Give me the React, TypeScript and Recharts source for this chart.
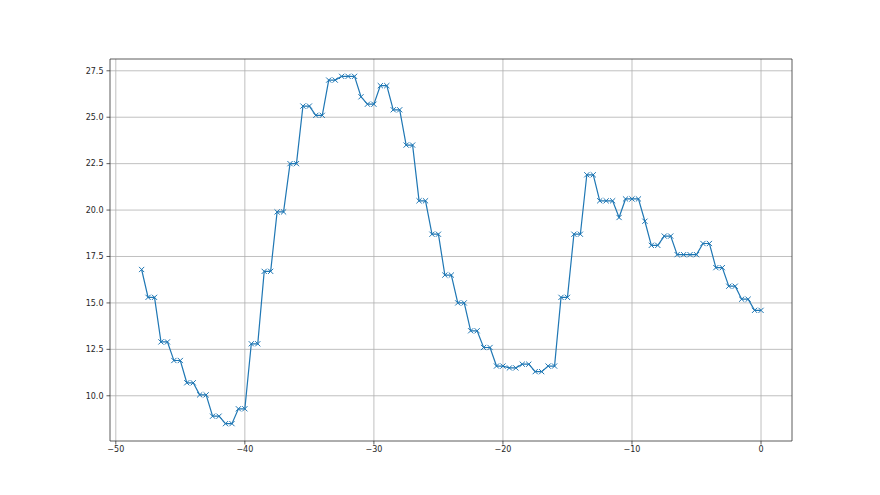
import React from 'react';
import {
  LineChart,
  Line,
  XAxis,
  YAxis,
  CartesianGrid,
  ReferenceLine
} from 'recharts';

const xValues = [
  -48, -47.5, -47, -46.5, -46, -45.5, -45, -44.5, -44, -43.5, -43, -42.5, -42,
  -41.5, -41, -40.5, -40, -39.5, -39, -38.5, -38, -37.5, -37, -36.5, -36, -35.5,
  -35, -34.5, -34, -33.5, -33, -32.5, -32, -31.5, -31, -30.5, -30, -29.5, -29,
  -28.5, -28, -27.5, -27, -26.5, -26, -25.5, -25, -24.5, -24, -23.5, -23, -22.5,
  -22, -21.5, -21, -20.5, -20, -19.5, -19, -18.5, -18, -17.5, -17, -16.5, -16,
  -15.5, -15, -14.5, -14, -13.5, -13, -12.5, -12, -11.5, -11, -10.5, -10, -9.5,
  -9, -8.5, -8, -7.5, -7, -6.5, -6, -5.5, -5, -4.5, -4, -3.5, -3, -2.5, -2, -1.5,
  -1, -0.5, 0
];

const yValues = [
  16.8, 15.3, 15.3, 12.9, 12.9, 11.9, 11.9, 10.7, 10.7, 10.05, 10.05, 8.9, 8.9,
  8.5, 8.5, 9.3, 9.3, 12.8, 12.8, 16.7, 16.7, 19.9, 19.9, 22.5, 22.5, 25.6,
  25.6, 25.1, 25.1, 27.0, 27.0, 27.2, 27.2, 27.2, 26.1, 25.7, 25.7, 26.7, 26.7,
  25.4, 25.4, 23.5, 23.5, 20.5, 20.5, 18.7, 18.7, 16.5, 16.5, 15.0, 15.0, 13.5,
  13.5, 12.6, 12.6, 11.6, 11.6, 11.5, 11.5, 11.7, 11.7, 11.3, 11.3, 11.6, 11.6,
  15.3, 15.3, 18.7, 18.7, 21.9, 21.9, 20.5, 20.5, 20.5, 19.6, 20.6, 20.6, 20.6,
  19.4, 18.1, 18.1, 18.6, 18.6, 17.6, 17.6, 17.6, 17.6, 18.2, 18.2, 16.9, 16.9,
  15.9, 15.9, 15.2, 15.2, 14.6, 14.6
];

const xTicks = [-50, -40, -30, -20, -10, 0];
const yTicks = [10, 12.5, 15, 17.5, 20, 22.5, 25, 27.5];

const data = xValues.map((x, i) => ({ x, y: yValues[i] }));

const xDomain = [-50.45, 2.4];
const yDomain = [7.565, 28.135];

const LINE_COLOR = '#1f77b4';
const tickStyle = { fontSize: 8, fill: '#262626', fontFamily: 'DejaVu Sans' };

// matplotlib 'x' marker
const XMarker = (props: any) => {
  const { cx, cy } = props;
  if (cx == null || cy == null) return null;
  const r = 2.6;
  return (
    <g>
      <line x1={cx - r} y1={cy - r} x2={cx + r} y2={cy + r} stroke={LINE_COLOR} strokeWidth={1} />
      <line x1={cx - r} y1={cy + r} x2={cx + r} y2={cy - r} stroke={LINE_COLOR} strokeWidth={1} />
    </g>
  );
};

const fmtMinus = (v: number) => String(v).replace('-', '\u2212');

export default function App() {
  return (
    <div style={{ position: 'absolute', left: 0, top: 0, width: 880, height: 495, background: '#fff' }}>
      <LineChart
        width={880}
        height={495}
        data={data}
        margin={{ top: 59, right: 88, left: 0, bottom: 24 }}
      >
        <CartesianGrid stroke="#b0b0b0" strokeWidth={0.8} horizontalValues={yTicks} verticalValues={xTicks} />
        <XAxis
          dataKey="x"
          type="number"
          domain={xDomain}
          ticks={xTicks}
          allowDataOverflow
          height={30}
          tick={tickStyle}
          tickFormatter={fmtMinus}
          tickSize={3.5}
          tickMargin={2}
          stroke="#333"
          strokeWidth={0.8}
          interval={0}
        />
        <YAxis
          dataKey="y"
          type="number"
          domain={yDomain}
          ticks={yTicks}
          allowDataOverflow
          width={110}
          tick={tickStyle}
          tickFormatter={(v: number) => v.toFixed(1)}
          tickSize={3.5}
          tickMargin={3}
          stroke="#333"
          strokeWidth={0.8}
          interval={0}
        />
        <ReferenceLine x={xDomain[1]} stroke="#333" strokeWidth={0.8} />
        <ReferenceLine y={yDomain[1]} stroke="#333" strokeWidth={0.8} />
        <Line
          type="linear"
          dataKey="y"
          stroke={LINE_COLOR}
          strokeWidth={1.2}
          dot={<XMarker />}
          activeDot={false}
          isAnimationActive={false}
        />
      </LineChart>
    </div>
  );
}
